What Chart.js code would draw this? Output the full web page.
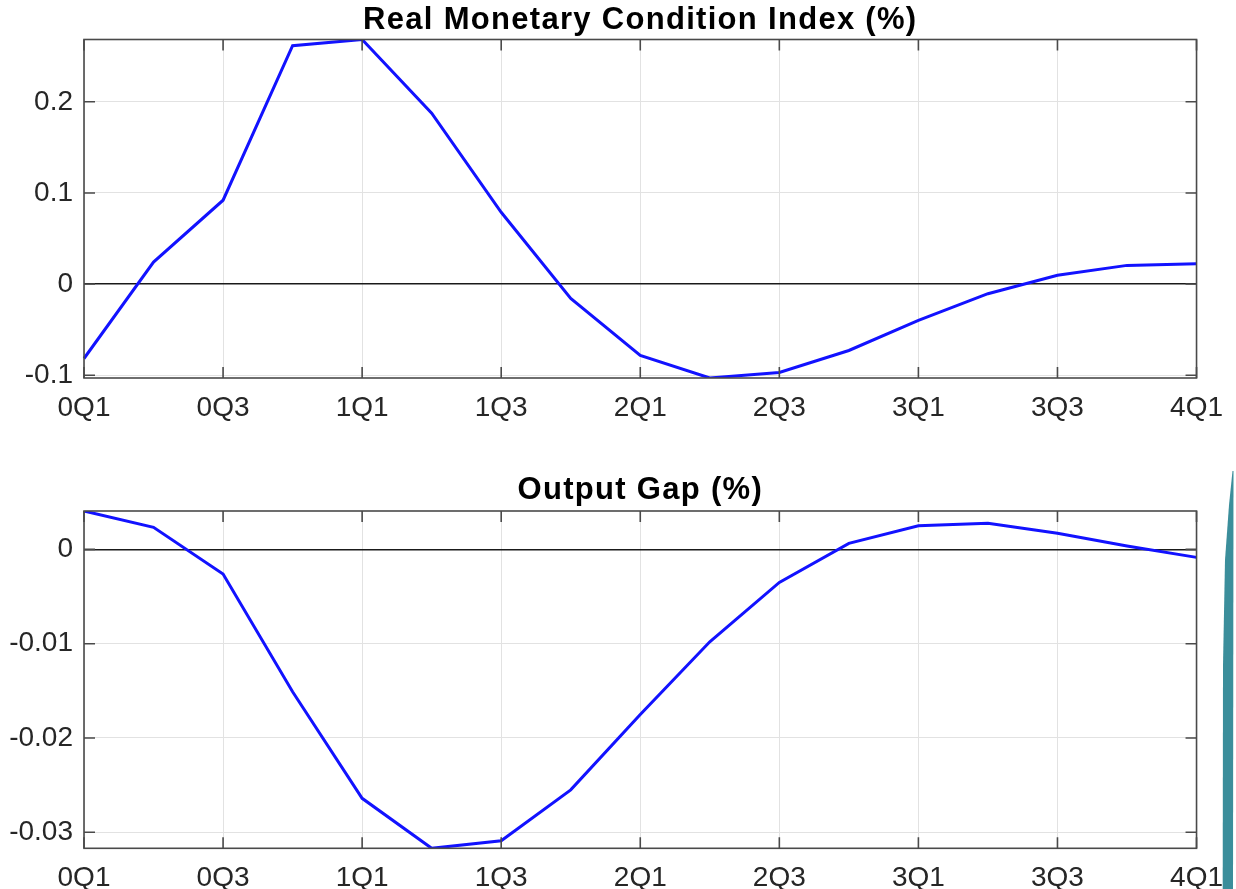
<!DOCTYPE html>
<html>
<head>
<meta charset="utf-8">
<script src="https://cdn.jsdelivr.net/npm/chart.js@4.4.1/dist/chart.umd.min.js"></script>
<style>
html,body{margin:0;padding:0;background:#fff;width:1236px;height:889px;overflow:hidden}
.box{position:absolute;left:0;width:1236px}
#teal{position:absolute;left:1220px;top:465px;width:16px;height:424px;background:#3b8e9b;
clip-path:polygon(12.5px 6px,13.5px 6px,13px 424px,2.7px 424px,3px 200px,5px 95px,9px 40px)}
</style>
</head>
<body>
<div class="box" style="top:0;height:440px"><canvas id="c1"></canvas></div>
<div class="box" style="top:440px;height:449px"><canvas id="c2"></canvas></div>
<div id="teal"></div>
<script>
// ---- data ----
const quarters = ['0Q1','0Q2','0Q3','0Q4','1Q1','1Q2','1Q3','1Q4','2Q1','2Q2','2Q3','2Q4','3Q1','3Q2','3Q3','3Q4','4Q1'];
const rmciValues = [-0.0817, 0.0242, 0.0920, 0.2616, 0.2684, 0.1876, 0.0788, -0.0157, -0.0784, -0.1031, -0.0970, -0.0729, -0.0399, -0.0106, 0.0096, 0.0205, 0.0224];
const outputGapValues = [0.00407, 0.00234, -0.00262, -0.0151, -0.0264, -0.0317, -0.0309, -0.0255, -0.0175, -0.0098, -0.0035, 0.00064, 0.0025, 0.00276, 0.0017, 0.00035, -0.00085];
const rmciTicks = [-0.1, 0, 0.1, 0.2];
const rmciTickLabels = ['-0.1', '0', '0.1', '0.2'];
const gapTicks = [-0.03, -0.02, -0.01, 0];
const gapTickLabels = ['-0.03', '-0.02', '-0.01', '0'];
const rmciTitle = 'Real Monetary Condition Index (%)';
const gapTitle = 'Output Gap (%)';

const FONT = "'Liberation Sans', Arial, Helvetica, sans-serif";

// wider title lettering (title is drawn before datasets; tick labels are drawn after)
const spacing = {
  id: 'spacing',
  beforeDraw(chart) { chart.ctx.letterSpacing = '1.3px'; },
  beforeDatasetsDraw(chart) { chart.ctx.letterSpacing = '0px'; }
};

const frame = {
  id: 'frame',
  afterDatasetsDraw(chart) {
    const {ctx, chartArea: a, scales: {x, y}} = chart;
    ctx.save();
    ctx.strokeStyle = '#4a4a4a';
    ctx.lineWidth = 1.6;
    ctx.strokeRect(a.left, a.top, a.right - a.left, a.bottom - a.top);
    const L = 11;
    ctx.beginPath();
    x.ticks.forEach(t => {
      const p = x.getPixelForValue(t.value);
      ctx.moveTo(p, a.bottom); ctx.lineTo(p, a.bottom - L);
      ctx.moveTo(p, a.top); ctx.lineTo(p, a.top + L);
    });
    y.ticks.forEach(t => {
      const p = y.getPixelForValue(t.value);
      ctx.moveTo(a.left, p); ctx.lineTo(a.left + L, p);
      ctx.moveTo(a.right, p); ctx.lineTo(a.right - L, p);
    });
    ctx.stroke();
    ctx.restore();
  }
};

function makeChart(id, title, values, yTicks, yLabels, titlePad, xHeight) {
  return new Chart(document.getElementById(id), {
    type: 'line',
    data: {
      labels: quarters,
      datasets: [{
        data: values,
        borderColor: '#1212ff',
        borderWidth: 3,
        pointRadius: 0,
        tension: 0,
        fill: false
      }]
    },
    options: {
      responsive: true,
      maintainAspectRatio: false,
      animation: false,
      layout: {padding: {left: 0, right: 38, top: 0, bottom: 0}},
      plugins: {
        legend: {display: false},
        tooltip: {enabled: false},
        title: {
          display: true,
          fullSize: false,
          text: title,
          color: '#000',
          font: {family: FONT, size: 31, weight: 'bold'},
          padding: titlePad
        }
      },
      scales: {
        x: {
          type: 'category',
          offset: false,
          border: {display: false},
          grid: {color: '#e2e2e2', lineWidth: 1, drawTicks: false},
          ticks: {z: 1, autoSkip: false, maxRotation: 0, padding: 13, color: '#262626', font: {family: FONT, size: 28}},
          afterBuildTicks: s => { s.ticks = s.ticks.filter(t => t.value % 2 === 0); },
          afterFit: s => { s.height = xHeight; }
        },
        y: {
          min: Math.min(...values),
          max: Math.max(...values),
          border: {display: false},
          grid: {
            color: c => (c.tick && c.tick.value === 0) ? '#1a1a1a' : '#e2e2e2',
            lineWidth: c => (c.tick && c.tick.value === 0) ? 1.4 : 1,
            drawTicks: false
          },
          ticks: {
            z: 1, padding: 11, color: '#262626', font: {family: FONT, size: 28},
            callback: v => yLabels[yTicks.indexOf(v)]
          },
          afterBuildTicks: s => { s.ticks = yTicks.map(v => ({value: v})); },
          afterFit: s => { s.width = 84; }
        }
      }
    },
    plugins: [spacing, frame]
  });
}

makeChart('c1', rmciTitle, rmciValues, rmciTicks, rmciTickLabels, {top: 1.4, bottom: 0.9}, 62);
makeChart('c2', gapTitle, outputGapValues, gapTicks, gapTickLabels, {top: 31.4, bottom: 2.4}, 40.7);
</script>
</body>
</html>
